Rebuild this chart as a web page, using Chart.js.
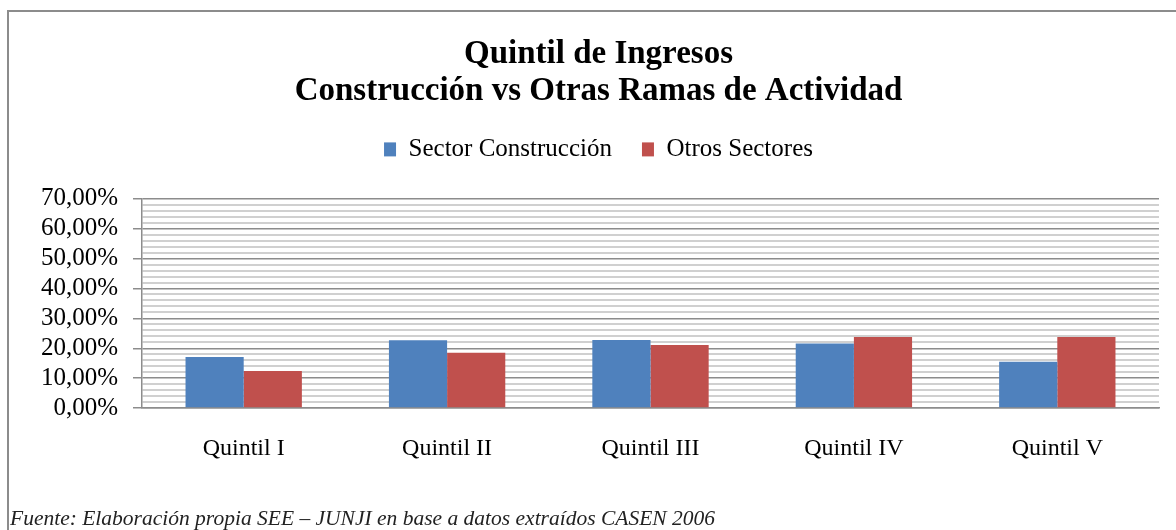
<!DOCTYPE html>
<html>
<head>
<meta charset="utf-8">
<script src="https://cdn.jsdelivr.net/npm/chart.js@4.4.1/dist/chart.umd.min.js"></script>
<style>
    body { margin: 0; width: 1176px; height: 530px; overflow: hidden; background: #fff; position: relative; }
    .marco { position: absolute; left: 7px; top: 10px; width: 1200px; height: 560px; border-left: 2px solid #8c8c8c; border-top: 2px solid #8c8c8c; }
    #grafico { position: absolute; left: 0; top: 0; }
    .fuente { position: absolute; left: 10px; top: 506px; font-family: "Liberation Serif", serif; font-style: italic; font-size: 21.5px; color: #222; white-space: nowrap; }
</style>
</head>
<body>
<div class="marco"></div>
<canvas id="grafico" width="1176" height="530"></canvas>
<div class="fuente">Fuente: Elaboración propia SEE – JUNJI en base a datos extraídos CASEN 2006</div>

<script>
var quintiles = ['Quintil I', 'Quintil II', 'Quintil III', 'Quintil IV', 'Quintil V'];
var sectorConstruccion = [17.1, 22.7, 22.8, 21.6, 15.5];
var otrosSectores = [12.4, 18.5, 21.1, 23.8, 23.8];
var etiquetasY = [0, 10, 20, 30, 40, 50, 60, 70];

var fuente = 'Liberation Serif';

// deja espacio extra bajo la leyenda
var espacioLeyenda = {
    id: 'espacioLeyenda',
    beforeInit: function (chart) {
        var fitOriginal = chart.legend.fit;
        chart.legend.fit = function () {
            fitOriginal.bind(chart.legend)();
            this.height = 92;
        };
    }
};

var ctx = document.getElementById('grafico').getContext('2d');
new Chart(ctx, {
    type: 'bar',
    data: {
        labels: quintiles,
        datasets: [{
            label: 'Sector Construcción',
            data: sectorConstruccion,
            backgroundColor: '#4f81bd'
        }, {
            label: 'Otros Sectores',
            data: otrosSectores,
            backgroundColor: '#c0504d'
        }]
    },
    options: {
        responsive: false,
        animation: false,
        layout: { padding: { left: 38, right: 17, top: 0, bottom: 0 } },
        datasets: {
            bar: { barPercentage: 1, categoryPercentage: 0.572 }
        },
        plugins: {
            title: {
                display: true,
                text: ['Quintil de Ingresos', 'Construcción vs Otras Ramas de Actividad'],
                color: '#000',
                font: { family: fuente, size: 33, weight: 'bold', lineHeight: 1.15 },
                padding: { top: 35, bottom: -4 }
            },
            legend: {
                position: 'top',
                labels: {
                    color: '#000',
                    font: { family: fuente, size: 25 },
                    boxWidth: 12,
                    boxHeight: 14,
                    padding: 30
                }
            },
            tooltip: { enabled: false }
        },
        scales: {
            x: {
                grid: { display: true, color: 'rgba(0,0,0,0)', drawTicks: false },
                border: { display: true, color: '#8c8c8c', width: 1.5 },
                ticks: { color: '#000', font: { family: fuente, size: 24 }, padding: 26 },
                afterFit: function (scale) { scale.height = 122; }
            },
            y: {
                min: 0,
                max: 70,
                grid: {
                    color: function (c) { return c.tick && c.tick.value % 10 === 0 ? '#8c8c8c' : '#d0d0d0'; },
                    lineWidth: function (c) { return c.tick && c.tick.value % 10 === 0 ? 1.5 : 2; },
                    tickColor: function (c) { return c.tick && c.tick.value % 10 === 0 ? '#8c8c8c' : 'rgba(0,0,0,0)'; },
                    tickLength: 9
                },
                border: { display: true, color: '#8c8c8c', width: 1.5 },
                ticks: {
                    stepSize: 2,
                    autoSkip: false,
                    padding: 15,
                    color: '#000',
                    font: { family: fuente, size: 25 },
                    callback: function (v) {
                        return etiquetasY.indexOf(v) >= 0 ? v.toFixed(2).replace('.', ',') + '%' : '';
                    }
                },
                afterFit: function (scale) { scale.width = 104; }
            }
        }
    },
    plugins: [espacioLeyenda]
});
</script>
</body>
</html>
